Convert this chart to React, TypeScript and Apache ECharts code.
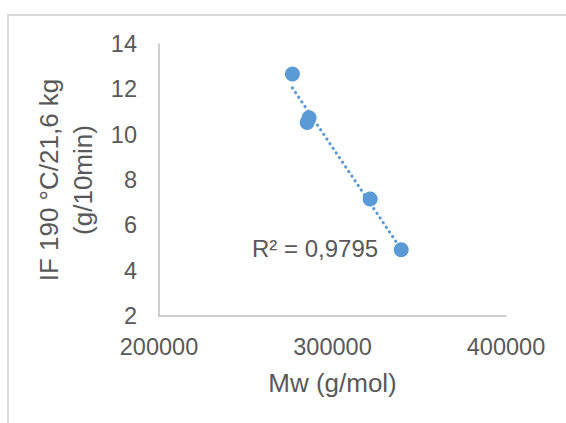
import React, { useEffect, useRef } from "react";
import * as echarts from "echarts";

const mwValues = [276900, 286500, 285400, 321700, 339600];
const ifValues = [12.68, 10.75, 10.54, 7.16, 4.92];
const xTitle = "Mw (g/mol)";
const yTitle = "IF 190 °C/21,6 kg\n(g/10min)";
const r2Label = "R² = 0,9795";
const xRange = [200000, 400000, 100000];
const yRange = [2, 14, 2];

function regression(xs: number[], ys: number[]) {
  const n = xs.length;
  const mx = xs.reduce((a, b) => a + b, 0) / n;
  const my = ys.reduce((a, b) => a + b, 0) / n;
  let sxy = 0;
  let sxx = 0;
  for (let i = 0; i < n; i++) {
    sxy += (xs[i] - mx) * (ys[i] - my);
    sxx += (xs[i] - mx) * (xs[i] - mx);
  }
  const slope = sxy / sxx;
  const intercept = my - slope * mx;
  return { slope, intercept };
}

export default function App() {
  const ref = useRef<HTMLDivElement>(null);
  useEffect(() => {
    if (!ref.current) return;
    const chart = echarts.init(ref.current, undefined, { renderer: "svg" });
    const { slope, intercept } = regression(mwValues, ifValues);
    const xMin = Math.min(...mwValues);
    const xMax = Math.max(...mwValues);
    const trend = [
      [xMin, intercept + slope * xMin],
      [xMax, intercept + slope * xMax],
    ];
    const font = "'Liberation Sans', Arial, sans-serif";
    chart.setOption({
      animation: false,
      backgroundColor: "#ffffff",
      grid: { left: 159, top: 44, right: 60, bottom: 107, containLabel: false },
      xAxis: {
        type: "value",
        min: xRange[0],
        max: xRange[1],
        interval: xRange[2],
        name: xTitle,
        nameLocation: "middle",
        nameGap: 54,
        nameTextStyle: { fontSize: 26, color: "#595959", fontFamily: font },
        axisLine: { show: true, lineStyle: { color: "#bfbfbf", width: 1.5 } },
        axisTick: { show: false },
        splitLine: { show: false },
        axisLabel: {
          fontSize: 23.5,
          color: "#595959",
          fontFamily: font,
          margin: 19,
          formatter: (v: number) => String(v),
        },
      },
      yAxis: {
        type: "value",
        min: yRange[0],
        max: yRange[1],
        interval: yRange[2],
        name: yTitle,
        nameLocation: "middle",
        nameGap: 53,
        nameRotate: 90,
        nameTextStyle: {
          fontSize: 26,
          color: "#595959",
          fontFamily: font,
          lineHeight: 34,
          align: "center",
        },
        axisLine: { show: true, lineStyle: { color: "#bfbfbf", width: 1.5 } },
        axisTick: { show: false },
        splitLine: { show: false },
        axisLabel: { fontSize: 23.5, color: "#595959", fontFamily: font, margin: 22 },
      },
      graphic: [
        {
          type: "rect",
          shape: { x: 8, y: 15, width: 700, height: 600 },
          style: { fill: "none", stroke: "#d9d9d9", lineWidth: 2 },
          silent: true,
          z: 0,
        },
        {
          type: "text",
          left: 252,
          top: 236,
          style: {
            text: r2Label,
            fontSize: 24,
            fill: "#595959",
            fontFamily: font,
          },
          z: 10,
        },
      ],
      series: [
        {
          type: "line",
          data: trend,
          showSymbol: false,
          symbol: "none",
          lineStyle: { color: "#5b9bd5", width: 3.2, type: [0.1, 5.5], cap: "round" },
          z: 2,
        },
        {
          type: "scatter",
          data: mwValues.map((x, i) => [x, ifValues[i]]),
          symbol: "circle",
          symbolSize: 15,
          itemStyle: { color: "#5b9bd5", opacity: 1 },
          z: 3,
        },
      ],
    });
    return () => chart.dispose();
  }, []);
  return (
    <div
      ref={ref}
      style={{ position: "fixed", left: 0, top: 0, width: 566, height: 423 }}
    />
  );
}
